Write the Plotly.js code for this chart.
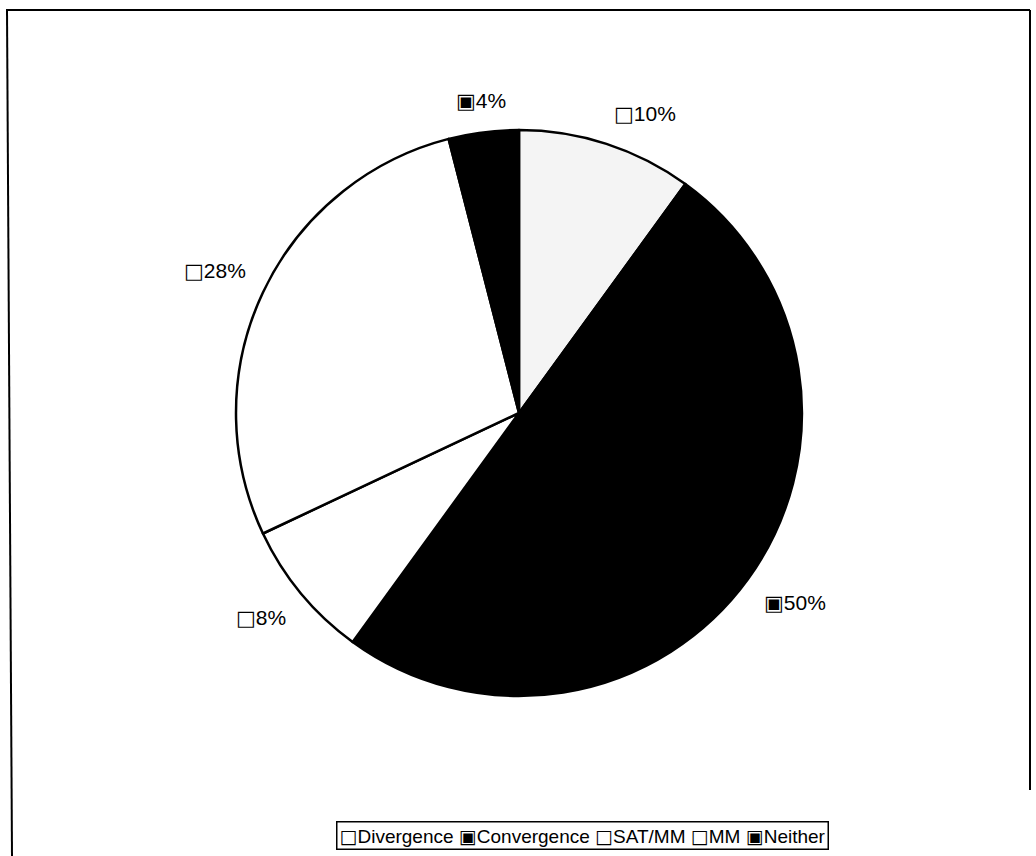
<!DOCTYPE html>
<html>
<head>
<meta charset="utf-8">
<script src="https://cdn.plot.ly/plotly-3.0.1.min.js"></script>
<style>html,body{margin:0;padding:0;background:#fff;}#chart{width:1036px;height:856px;}</style>
</head>
<body>
<div id="chart"></div>
<script>
const categories = ["Divergence", "Convergence", "SAT/MM", "MM", "Neither"];
const values = [10, 50, 8, 28, 4];
const sliceColors = ["#f4f4f4", "#000000", "#ffffff", "#ffffff", "#000000"];
const keyGlyphs = ["\u25A1", "\u25A3", "\u25A1", "\u25A1", "\u25A3"];

const W = 1036, H = 856;
const cxPx = 519, cyPx = 413, R = 283;
const dom = {
  x: [(cxPx - R) / W, (cxPx + R) / W],
  y: [(H - cyPx - R) / H, (H - cyPx + R) / H]
};

const total = values.reduce((a, b) => a + b, 0);
const annotations = [];
let cum = 0;
values.forEach((v, i) => {
  const mid = (cum + v / 2) / total * 2 * Math.PI;
  cum += v;
  const d = R * 1.06;
  const s = Math.sin(mid), c = Math.cos(mid);
  annotations.push({
    xref: "paper", yref: "paper",
    x: (cxPx + d * s) / W,
    y: (H - cyPx + d * c) / H,
    xanchor: s > 0.3 ? "left" : (s < -0.3 ? "right" : "center"),
    yanchor: c > 0.3 ? "bottom" : (c < -0.3 ? "top" : "middle"),
    showarrow: false,
    text: "<span style='font-family:DejaVu Sans'>" + keyGlyphs[i] + "</span>" + Math.round(v / total * 100) + "%",
    font: {family: "Liberation Sans, Arial, sans-serif", size: 21, color: "#000"}
  });
});

annotations.push({
  xref: "paper", yref: "paper",
  x: 582 / W, y: (H - 835) / H,
  xanchor: "center", yanchor: "middle",
  showarrow: false,
  text: categories.map((c, i) => "<span style='font-family:DejaVu Sans'>" + keyGlyphs[i] + "</span>" + c).join(" "),
  font: {family: "Liberation Sans, Arial, sans-serif", size: 19, color: "#000"},
  bordercolor: "#000", borderwidth: 1.5, borderpad: 2, bgcolor: "#fff"
});

const data = [{
  type: "pie",
  labels: categories,
  values: values,
  sort: false,
  direction: "clockwise",
  rotation: 0,
  textinfo: "none",
  hoverinfo: "label+percent",
  marker: {colors: sliceColors, line: {color: "#000", width: 2.5}},
  domain: dom,
  showlegend: false
}];

const layout = {
  width: W, height: H,
  margin: {l: 0, r: 0, t: 0, b: 0},
  paper_bgcolor: "#fff",
  showlegend: false,
  annotations: annotations,
  shapes: [
    {type: "line", xref: "paper", yref: "paper", x0: 6 / W, x1: 1030 / W, y0: (H - 10) / H, y1: (H - 10) / H, line: {color: "#000", width: 2}},
    {type: "line", xref: "paper", yref: "paper", x0: 7 / W, x1: 12 / W, y0: (H - 10) / H, y1: 0, line: {color: "#000", width: 2}},
    {type: "line", xref: "paper", yref: "paper", x0: 1030 / W, x1: 1030 / W, y0: (H - 10) / H, y1: (H - 790) / H, line: {color: "#000", width: 2}}
  ]
};

Plotly.newPlot("chart", data, layout, {displayModeBar: false, staticPlot: true});
</script>
</body>
</html>
